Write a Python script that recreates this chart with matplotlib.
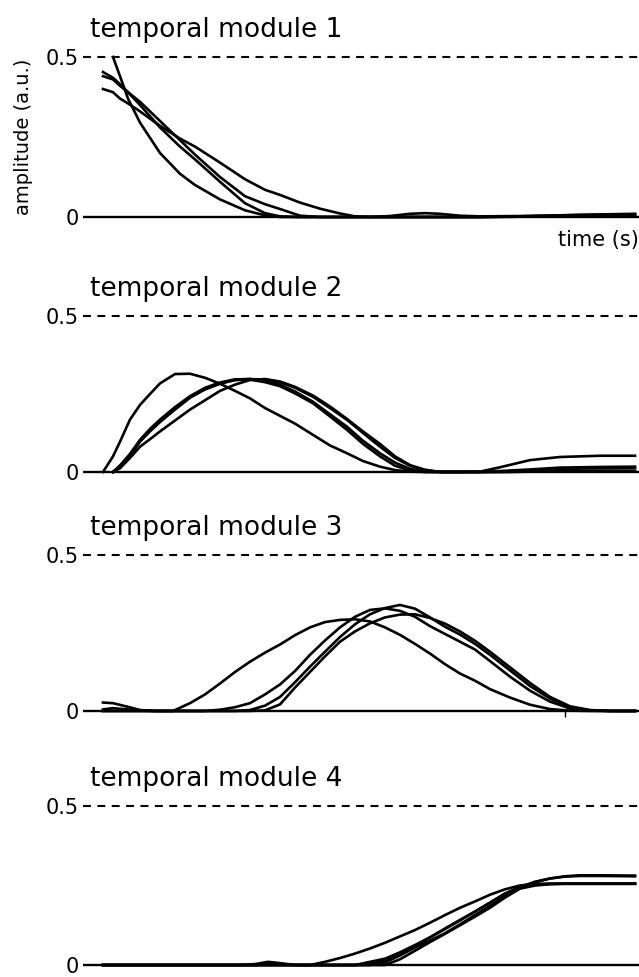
import numpy as np
import matplotlib
matplotlib.use('Agg')
import matplotlib.pyplot as plt

nan = np.nan

# time in arbitrary sample units (no ticks shown)
t1 = [20, 30, 37, 45, 57, 77, 97, 112, 137, 162, 182, 197, 217, 237, 257, 272,
      287, 307, 327, 342, 357, 377, 397, 437, 497, 552]
mod1 = [
    [nan, 0.50, 0.44, 0.37, 0.295, 0.20, 0.135, 0.10, 0.055, 0.021, 0.005, 0, 0, 0, 0, 0,
     0, 0, 0, 0, 0, 0, 0, 0.002, 0.007, 0.01],
    [0.453, 0.435, 0.415, 0.39, 0.35, 0.28, 0.22, 0.18, 0.11, 0.043, 0.012, 0.002, 0, 0, 0, 0,
     0, 0, 0, 0, 0, 0, 0, 0.001, 0.004, 0.006],
    [0.44, 0.43, 0.41, 0.39, 0.36, 0.30, 0.24, 0.195, 0.125, 0.065, 0.04, 0.025, 0.004, 0, 0, 0,
     0, 0, 0, 0, 0, 0, 0, 0.001, 0.002, 0.003],
    [0.40, 0.39, 0.37, 0.355, 0.33, 0.285, 0.245, 0.22, 0.17, 0.118, 0.085, 0.069, 0.045, 0.026, 0.011, 0.002,
     0, 0.003, 0.01, 0.012, 0.01, 0.004, 0.002, 0.003, 0.006, 0.008],
]

t2 = [20, 30, 37, 47, 57, 67, 77, 92, 107, 122, 137, 152, 167, 182, 197, 212,
      230, 247, 264, 280, 297, 312, 327, 342, 357, 377, 397, 417, 447, 477, 517, 552]
mod2 = [
    [0, 0.05, 0.097, 0.168, 0.215, 0.25, 0.284, 0.314, 0.315, 0.302, 0.283, 0.26, 0.236, 0.205, 0.18, 0.155,
     0.119, 0.085, 0.06, 0.035, 0.017, 0.006, 0.001, 0, 0, 0, 0, 0, 0.001, 0.002, 0.002, 0.002],
    [nan, 0, 0.02, 0.055, 0.10, 0.135, 0.165, 0.205, 0.24, 0.265, 0.283, 0.295, 0.298, 0.295, 0.288, 0.27,
     0.241, 0.205, 0.167, 0.125, 0.081, 0.045, 0.02, 0.006, 0, 0, 0, 0.003, 0.008, 0.014, 0.016, 0.017],
    [nan, 0, 0.02, 0.058, 0.103, 0.138, 0.168, 0.208, 0.243, 0.27, 0.287, 0.297, 0.298, 0.29, 0.28, 0.258,
     0.225, 0.185, 0.145, 0.10, 0.06, 0.03, 0.01, 0.001, 0, 0, 0, 0.001, 0.005, 0.01, 0.012, 0.013],
    [nan, 0, 0.018, 0.052, 0.097, 0.13, 0.16, 0.20, 0.238, 0.265, 0.284, 0.295, 0.296, 0.288, 0.275, 0.252,
     0.22, 0.178, 0.135, 0.09, 0.05, 0.02, 0.005, 0, 0, 0, 0, 0, 0.001, 0.003, 0.004, 0.004],
    [nan, 0, 0.012, 0.045, 0.081, 0.105, 0.13, 0.165, 0.20, 0.23, 0.26, 0.28, 0.295, 0.298, 0.29, 0.273,
     0.245, 0.21, 0.17, 0.13, 0.09, 0.05, 0.022, 0.007, 0, 0, 0.001, 0.015, 0.038, 0.048, 0.052, 0.052],
]

t3 = [20, 30, 44, 57, 72, 90, 107, 122, 137, 152, 167, 182, 197, 212, 227, 242,
      257, 272, 287, 302, 317, 332, 347, 362, 377, 392, 407, 427, 447, 467, 487, 507, 527, 552]
mod3 = [
    [0.027, 0.025, 0.014, 0.003, 0, 0, 0.025, 0.053, 0.088, 0.125, 0.158, 0.187, 0.213, 0.243, 0.268, 0.285,
     0.292, 0.294, 0.287, 0.268, 0.244, 0.215, 0.184, 0.15, 0.12, 0.097, 0.07, 0.043, 0.02, 0.006, 0.001, 0, 0, 0],
    [0.005, 0.009, 0.005, 0.001, 0, 0, 0, 0, 0.004, 0.012, 0.025, 0.053, 0.085, 0.128, 0.18, 0.226,
     0.268, 0.302, 0.324, 0.329, 0.321, 0.302, 0.272, 0.247, 0.222, 0.197, 0.16, 0.11, 0.065, 0.03, 0.008, 0.001, 0, 0],
    [0, 0, 0, 0, 0, 0, 0, 0, 0, 0, 0.003, 0.017, 0.045, 0.092, 0.142, 0.19,
     0.237, 0.278, 0.31, 0.33, 0.34, 0.328, 0.30, 0.27, 0.245, 0.215, 0.18, 0.13, 0.08, 0.04, 0.012, 0.002, 0, 0],
    [0, 0, 0, 0, 0, 0, 0, 0, 0, 0, 0, 0.002, 0.021, 0.075, 0.125, 0.175,
     0.222, 0.255, 0.281, 0.30, 0.309, 0.31, 0.298, 0.28, 0.255, 0.225, 0.19, 0.14, 0.09, 0.045, 0.015, 0.003, 0, 0],
]
tick3 = [482]

t4 = [20, 67, 117, 157, 172, 185, 197, 212, 227, 242, 257, 272, 287, 302, 317, 332,
      347, 362, 377, 392, 407, 422, 437, 452, 467, 482, 497, 517, 552]
mod4 = [
    [0, 0, 0, 0, 0.003, 0.01, 0.006, 0, 0, 0.01, 0.022, 0.036, 0.052, 0.07, 0.09, 0.11,
     0.133, 0.157, 0.18, 0.20, 0.221, 0.238, 0.25, 0.255, 0.256, 0.256, 0.256, 0.256, 0.256],
    [0, 0, 0, 0, 0, 0.003, 0.002, 0, 0, 0, 0, 0, 0.01, 0.02, 0.04, 0.063,
     0.087, 0.115, 0.142, 0.168, 0.196, 0.224, 0.245, 0.262, 0.272, 0.278, 0.28, 0.28, 0.279],
    [0, 0, 0, 0, 0, 0, 0, 0, 0, 0, 0, 0, 0, 0.008, 0.03, 0.055,
     0.077, 0.10, 0.128, 0.157, 0.186, 0.218, 0.243, 0.26, 0.272, 0.279, 0.282, 0.282, 0.281],
    [0, 0, 0, 0, 0, 0, 0, 0, 0, 0, 0, 0, 0, 0, 0.018, 0.045,
     0.072, 0.098, 0.125, 0.152, 0.18, 0.212, 0.24, 0.25, 0.254, 0.255, 0.255, 0.255, 0.255],
    [0, 0, 0, 0, 0, 0, 0, 0, 0, 0, 0, 0, 0.003, 0.015, 0.035, 0.06,
     0.087, 0.113, 0.14, 0.168, 0.196, 0.225, 0.245, 0.252, 0.255, 0.256, 0.256, 0.256, 0.256],
]

titles = ["temporal module 1", "temporal module 2", "temporal module 3", "temporal module 4"]
y_ticks = [0, 0.5]
y_tick_labels = ["0", "0.5"]

W, H = 639, 977


def panel(fig, top_px, bottom_px, t, curves, title, first=False, ticks=None):
    left, right = 83, 639
    ax = fig.add_axes([left / W, 1 - bottom_px / H, (right - left) / W, (bottom_px - top_px) / H])
    for c in curves:
        ax.plot(t, c, color='black', lw=1.9, solid_joinstyle='round', clip_on=False)
    ax.axhline(0, color='black', lw=1.7, zorder=3)
    ax.axhline(0.5, color='black', lw=1.5, ls=(0, (3.8, 3.1)))
    ax.set_xlim(0, right - left)
    ax.set_ylim(-0.02, 0.52)
    for s in ax.spines.values():
        s.set_visible(False)
    ax.set_yticks(y_ticks)
    ax.set_yticklabels(y_tick_labels)
    ax.tick_params(axis='y', length=0, pad=3.2, labelsize=15)
    if ticks:
        # one small tick just under the zero line
        ax.set_xticks(ticks)
        ax.set_xticklabels([])
        ax.tick_params(axis='x', length=4, width=1, direction='out')
        ax.spines['bottom'].set_position(('data', 0))
    else:
        ax.set_xticks([])
    ax.set_title(title, loc='left', fontsize=19, x=(90 - left) / (right - left), pad=10)
    if first:
        ax.set_ylabel("amplitude (a.u.)", fontsize=14)
        ax.yaxis.set_label_coords((33 - left) / (right - left), 0.5)
        ax.text(1.0, -0.04, "time (s)", transform=ax.transAxes, ha='right', va='top', fontsize=15)
    return ax


if __name__ == "__main__":
    fig = plt.figure(figsize=(W / 100, H / 100), dpi=100)
    rows = [(50.6, 223.4), (309.8, 478.2), (548.8, 717.2), (799.6, 971.4)]
    data = [(t1, mod1), (t2, mod2), (t3, mod3), (t4, mod4)]
    for i, ((top, bot), (t, curves)) in enumerate(zip(rows, data)):
        panel(fig, top, bot, t, curves, titles[i], first=(i == 0),
              ticks=tick3 if i == 2 else None)
    fig.savefig("out.png", dpi=100)
